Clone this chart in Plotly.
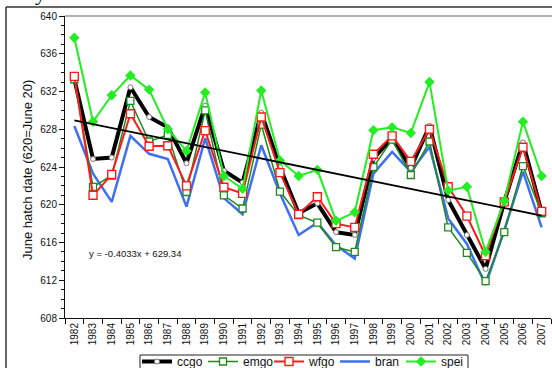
import plotly.graph_objects as go

years = [str(y) for y in range(1982, 2008)]

ccgo = [633.3, 624.85, 625.0, 632.45, 629.3, 628.2, 624.4, 630.5, 623.6, 622.35,
        629.75, 624.0, 619.1, 620.15, 617.1, 616.8, 624.9, 627.05, 623.9, 628.35,
        620.5, 616.8, 613.2, 620.3, 626.6, 619.2]
emgo = [633.3, 621.9, 623.1, 631.0, 626.7, 627.4, 621.35, 630.0, 621.0, 619.6,
        628.5, 621.4, 618.9, 618.1, 615.5, 615.0, 624.0, 626.9, 623.15, 626.7,
        617.6, 614.9, 611.9, 617.1, 624.1, 619.1]
wfgo = [633.6, 621.0, 623.2, 629.65, 626.2, 626.25, 622.0, 627.85, 621.85, 621.2,
        629.3, 623.4, 619.0, 620.85, 618.0, 617.6, 625.35, 627.3, 624.6, 628.0,
        621.9, 618.8, 614.6, 620.3, 626.1, 619.3]
bran = [628.35, 623.3, 620.3, 627.3, 625.4, 624.85, 619.8, 627.05, 620.7, 619.0,
        626.3, 621.2, 616.8, 618.1, 615.7, 614.3, 623.3, 625.6, 623.5, 626.15,
        618.55, 615.85, 611.5, 617.3, 623.5, 617.6]
spei = [637.7, 628.8, 631.6, 633.7, 632.2, 628.0, 625.7, 631.9, 623.05, 621.7,
        632.1, 624.7, 623.05, 623.7, 618.3, 619.2, 627.9, 628.2, 627.6, 633.0,
        621.5, 621.9, 615.0, 620.4, 628.8, 623.05]

# Trend line as given by the chart's equation: y = -0.4033x + 629.34 (x = 1..26)
slope = -0.4033
intercept = 629.34
trend = [slope * (i + 1) + intercept for i in range(len(years))]

y_ticks = list(range(608, 641, 4))

FONT = "Arial, Liberation Sans, sans-serif"

fig = go.Figure()

fig.add_trace(go.Scatter(
    x=years, y=bran, name="bran", mode="lines",
    line=dict(color="#3f6ff2", width=2.5), legendrank=4))
fig.add_trace(go.Scatter(
    x=years, y=ccgo, name="ccgo", mode="lines+markers",
    line=dict(color="#000000", width=4),
    marker=dict(symbol="circle", size=5, color="#ffffff",
                line=dict(color="#777777", width=1)), legendrank=1))
fig.add_trace(go.Scatter(
    x=years, y=emgo, name="emgo", mode="lines+markers",
    line=dict(color="#1e8a1e", width=1.5),
    marker=dict(symbol="square", size=7, color="#ffffff",
                line=dict(color="#1e8a1e", width=1.3)), legendrank=2))
fig.add_trace(go.Scatter(
    x=years, y=wfgo, name="wfgo", mode="lines+markers",
    line=dict(color="#ff1a1a", width=2),
    marker=dict(symbol="square", size=8, color="#ffffff",
                line=dict(color="#ff1a1a", width=1.4)), legendrank=3))
fig.add_trace(go.Scatter(
    x=years, y=spei, name="spei", mode="lines+markers",
    line=dict(color="#22ee22", width=2),
    marker=dict(symbol="diamond", size=8, color="#22ee22"), legendrank=5))
fig.add_trace(go.Scatter(
    x=years, y=trend, mode="lines", showlegend=False, hoverinfo="skip",
    line=dict(color="#000000", width=1.8)))

fig.update_layout(
    width=552, height=368,
    margin=dict(l=65, r=1, t=16, b=50, autoexpand=False),
    paper_bgcolor="white", plot_bgcolor="white",
    font=dict(family=FONT, color="#111111"),
    showlegend=True,
    legend=dict(orientation="h", x=(137 - 65) / 486, xanchor="left",
                y=(318 - 347) / 302, yanchor="top",
                borderwidth=0, bgcolor="rgba(0,0,0,0)",
                font=dict(size=12, family=FONT, color="#111111"),
                entrywidth=21, entrywidthmode="pixels",
                tracegroupgap=0, itemwidth=30),
    xaxis=dict(type="category", categoryorder="array", categoryarray=years,
               tickson="boundaries", ticks="outside", ticklen=5, tickwidth=1,
               tickcolor="#111111", tickangle=-90,
               tickfont=dict(size=10, family=FONT, color="#111111"),
               showline=True, linecolor="#111111", linewidth=1,
               showgrid=False, zeroline=False, range=[-0.5, 25.5]),
    yaxis=dict(range=[608, 640], tickvals=y_ticks, ticktext=[str(v) for v in y_ticks],
               ticks="outside", ticklen=5, tickwidth=1, tickcolor="#111111",
               tickfont=dict(size=10, family=FONT, color="#111111"),
               minor=dict(dtick=1, ticks="outside", ticklen=3, tickcolor="#111111",
                          showgrid=False),
               showline=True, linecolor="#111111", linewidth=1,
               showgrid=False, zeroline=False),
)

# Frame lines: outer border (figure) and gray top line of plot area
fig.add_shape(type="line", xref="paper", yref="paper",
              x0=0, x1=1.01, y0=1, y1=1, line=dict(color="#999999", width=1.5))
fig.add_shape(type="line", xref="paper", yref="paper",
              x0=(6 - 65) / 486, x1=1.01, y0=1 + 9 / 302, y1=1 + 9 / 302,
              line=dict(color="#333333", width=1.5))
fig.add_shape(type="line", xref="paper", yref="paper",
              x0=(6 - 65) / 486, x1=(6 - 65) / 486, y0=1 + 9 / 302, y1=-0.2,
              line=dict(color="#333333", width=1.5))
# Legend box
fig.add_shape(type="rect", xref="paper", yref="paper",
              x0=(140 - 65) / 486, x1=(468 - 65) / 486,
              y0=(318 - 355) / 302, y1=(318 - 380) / 302,
              line=dict(color="#222222", width=1), fillcolor="rgba(0,0,0,0)")

fig.add_annotation(text="June hatch date (620=June 20)", textangle=-90,
                   xref="paper", yref="paper", x=(28 - 65) / 486, y=(318 - 170) / 302,
                   xanchor="center", yanchor="middle", showarrow=False,
                   font=dict(size=13, family=FONT, color="#111111"))
fig.add_annotation(text="y = -0.4033x + 629.34",
                   xref="paper", yref="paper", x=(87 - 65) / 486, y=(318 - 253) / 302,
                   xanchor="left", yanchor="middle", showarrow=False,
                   font=dict(size=9.5, family=FONT, color="#111111"))
fig.add_annotation(text="years.",
                   xref="paper", yref="paper", x=(33 - 65) / 486, y=1 + 9 / 302,
                   xanchor="left", yanchor="bottom", showarrow=False,
                   font=dict(size=22, family="Liberation Serif, Times New Roman, serif",
                             color="#000000"))

fig.write_html("out.html", config={"displayModeBar": False},
               post_script="document.body.style.margin='0';document.body.style.overflow='hidden';")
